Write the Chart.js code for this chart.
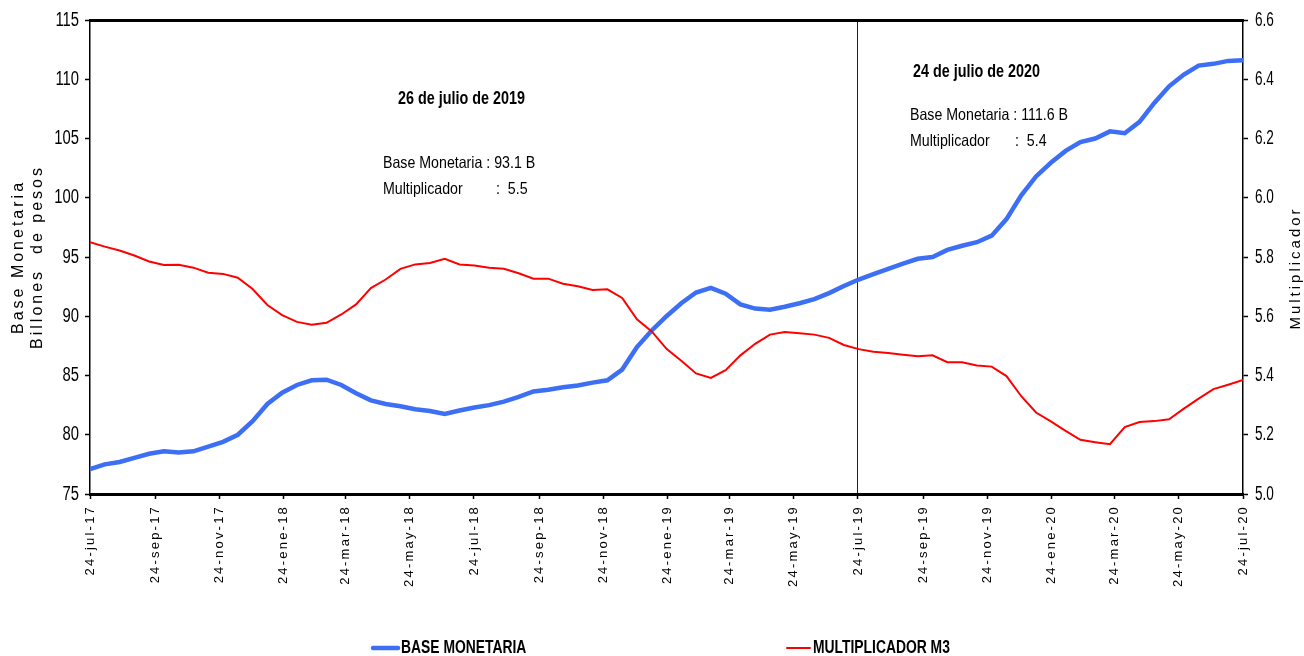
<!DOCTYPE html>
<html>
<head>
<meta charset="utf-8">
<title>Base Monetaria y Multiplicador M3</title>
<script src="https://cdn.jsdelivr.net/npm/chart.js@4.4.1/dist/chart.umd.min.js"></script>
<style>
  html, body { margin: 0; padding: 0; background: #fff; }
  canvas { display: block; }
</style>
</head>
<body>
<canvas id="chart" width="1304" height="656"></canvas>
<script>
// ---- data (about every two weeks, 24-jul-17 .. 24-jul-20) ----
const tickLabels = ['24-jul-17', '24-sep-17', '24-nov-17', '24-ene-18', '24-mar-18', '24-may-18',
  '24-jul-18', '24-sep-18', '24-nov-18', '24-ene-19', '24-mar-19', '24-may-19', '24-jul-19',
  '24-sep-19', '24-nov-19', '24-ene-20', '24-mar-20', '24-may-20', '24-jul-20'];

const baseMonetaria = [77.1, 77.5, 77.7, 78.05, 78.4, 78.6, 78.5, 78.6, 79.0, 79.4,
  80.0, 81.15, 82.6, 83.55, 84.2, 84.6, 84.65, 84.2, 83.5, 82.9,
  82.6, 82.4, 82.15, 82.0, 81.75, 82.05, 82.3, 82.5, 82.8, 83.2,
  83.65, 83.8, 84.0, 84.15, 84.4, 84.6, 85.5, 87.4, 88.8, 90.0,
  91.1, 92.0, 92.4, 91.9, 91.0, 90.65, 90.55, 90.8, 91.1, 91.45,
  91.95, 92.55, 93.1, 93.55, 94.0, 94.45, 94.85, 95.0, 95.6, 95.95,
  96.25, 96.8, 98.2, 100.2, 101.8, 102.95, 103.95, 104.7, 105.0, 105.6,
  105.45, 106.4, 108.0, 109.4, 110.4, 111.15, 111.3, 111.55, 111.6];

const multiplicador = [5.85, 5.835, 5.822, 5.805, 5.785, 5.773, 5.774, 5.764, 5.747, 5.743,
  5.730, 5.692, 5.638, 5.604, 5.581, 5.571, 5.578, 5.606, 5.64, 5.695,
  5.724, 5.76, 5.775, 5.78, 5.794, 5.775, 5.771, 5.764, 5.760, 5.745,
  5.727, 5.727, 5.71, 5.701, 5.689, 5.691, 5.662, 5.59, 5.549, 5.49,
  5.45, 5.407, 5.392, 5.418, 5.468, 5.507, 5.538, 5.547, 5.543, 5.538,
  5.527, 5.503, 5.489, 5.48, 5.476, 5.47, 5.465, 5.468, 5.445, 5.445,
  5.434, 5.43, 5.398, 5.33, 5.275, 5.245, 5.213, 5.183, 5.175, 5.168,
  5.226, 5.243, 5.246, 5.252, 5.288, 5.322, 5.354, 5.369, 5.385];

const notes = [
  { title: '26 de julio de 2019', base: '93.1 B', mult: '5.5' },
  { title: '24 de julio de 2020', base: '111.6 B', mult: '5.4' }
];
const refLabel = '24-jul-19';

// ---- helpers ----
const FONT = '"Liberation Sans", Arial, sans-serif';
const meses = ['ene', 'feb', 'mar', 'abr', 'may', 'jun', 'jul', 'ago', 'sep', 'oct', 'nov', 'dic'];

function toDay(label) {
  const p = label.split('-');
  return Date.UTC(2000 + Number(p[2]), meses.indexOf(p[1]), Number(p[0]));
}
const day0 = toDay(tickLabels[0]);
const tickDays = tickLabels.map(l => (toDay(l) - day0) / 86400000);
const totalDays = tickDays[tickDays.length - 1];
const refDay = tickDays[tickLabels.indexOf(refLabel)];
const step = totalDays / (baseMonetaria.length - 1);

const blueData = baseMonetaria.map((v, i) => ({ x: i * step, y: v }));
const redData = multiplicador.map((v, i) => ({ x: i * step, y: v }));

// narrow text: squeeze horizontally around an anchor
function narrowText(ctx, text, x, y, sx) {
  ctx.save();
  ctx.translate(x, y);
  ctx.scale(sx, 1);
  ctx.fillText(text, 0, 0);
  ctx.restore();
}

// letter spacing on rotated texts, condensed numbers on the y axes
const axisTextPlugin = {
  id: 'axisText',
  beforeDraw(chart) {
    const ctx = chart.ctx;
    const xs = chart.scales.x, ys = chart.scales.y, y1 = chart.scales.y1;
    if (xs && !xs._patched) {
      xs._patched = true;
      const dl = xs.drawLabels.bind(xs);
      xs.drawLabels = function (area) { ctx.save(); ctx.letterSpacing = '2.2px'; dl(area); ctx.restore(); };
    }
    if (ys && !ys._patched) {
      ys._patched = true;
      const dt = ys.drawTitle.bind(ys);
      ys.drawTitle = function () { ctx.save(); ctx.letterSpacing = '3px'; dt(); ctx.restore(); };
      const dl = ys.drawLabels.bind(ys);
      ys.drawLabels = function (area) {
        const ax = ys.right - 11;
        ctx.save(); ctx.translate(ax, 0); ctx.scale(0.74, 1); ctx.translate(-ax, 0);
        dl(area); ctx.restore();
      };
    }
    if (y1 && !y1._patched) {
      y1._patched = true;
      const dl = y1.drawLabels.bind(y1);
      y1.drawLabels = function (area) {
        const ax = y1.left + 12;
        ctx.save(); ctx.translate(ax, 0); ctx.scale(0.68, 1); ctx.translate(-ax, 0);
        dl(area); ctx.restore();
      };
    }
  }
};

// annotations, right title and legend
const notePos = [
  { titleX: 398, x: 383, colonX: 496, y: [99, 163, 189] },
  { titleX: 913, x: 910, colonX: 1015, y: [72, 115, 141] }
];
const legendPos = [
  { x0: 373, x1: 398, tx: 401 },
  { x0: 787, x1: 810, tx: 813 }
];
const textPlugin = {
  id: 'texts',
  afterDraw(chart) {
    const ctx = chart.ctx;
    ctx.save();
    ctx.fillStyle = '#000';
    ctx.textBaseline = 'middle';
    ctx.textAlign = 'left';
    notes.forEach((n, i) => {
      const p = notePos[i];
      ctx.font = 'bold 18.5px ' + FONT;
      narrowText(ctx, n.title, p.titleX, p.y[0], 0.777);
      ctx.font = '16.5px ' + FONT;
      narrowText(ctx, 'Base Monetaria : ' + n.base, p.x, p.y[1], 0.86);
      narrowText(ctx, 'Multiplicador', p.x, p.y[2], 0.86);
      narrowText(ctx, ':  ' + n.mult, p.colonX, p.y[2], 0.86);
    });

    ctx.save();
    ctx.translate(1296, 268);
    ctx.rotate(-Math.PI / 2);
    ctx.textAlign = 'center';
    ctx.font = '15px ' + FONT;
    ctx.letterSpacing = '3px';
    ctx.fillText('Multiplicador', 0, 0);
    ctx.restore();

    chart.data.datasets.forEach((ds, i) => {
      const p = legendPos[i];
      ctx.strokeStyle = ds.borderColor;
      ctx.lineWidth = ds.borderWidth;
      ctx.lineCap = 'round';
      ctx.beginPath();
      ctx.moveTo(p.x0, 648);
      ctx.lineTo(p.x1, 648);
      ctx.stroke();
      ctx.font = 'bold 19px ' + FONT;
      narrowText(ctx, ds.label, p.tx, 648, 0.73);
    });
    ctx.restore();
  }
};

const ctx = document.getElementById('chart').getContext('2d');
const chart = new Chart(ctx, {
  type: 'line',
  data: {
    datasets: [
      { label: 'BASE MONETARIA', data: blueData, yAxisID: 'y', borderColor: '#3d6ff5',
        borderWidth: 4.5, pointRadius: 0, tension: 0, order: 1 },
      { label: 'MULTIPLICADOR M3', data: redData, yAxisID: 'y1', borderColor: '#ff0000',
        borderWidth: 2, pointRadius: 0, tension: 0, order: 0 }
    ]
  },
  options: {
    responsive: false,
    animation: false,
    layout: { padding: { top: 20, left: 0, right: 0, bottom: 0 } },
    plugins: { legend: { display: false }, tooltip: { enabled: false } },
    scales: {
      x: {
        type: 'linear', position: 'bottom', min: 0, max: totalDays,
        afterBuildTicks: s => { s.ticks = tickDays.map(v => ({ value: v })); },
        afterFit: s => { s.height = 162; },
        ticks: {
          autoSkip: false, minRotation: 90, maxRotation: 90, padding: 6,
          color: '#000', font: { family: FONT, size: 13 },
          callback: (v, i) => tickLabels[i]
        },
        grid: {
          drawOnChartArea: true, drawTicks: true, tickLength: 5, lineWidth: 1,
          color: c => (c.tick && c.tick.value === refDay ? '#222' : 'rgba(0,0,0,0)'),
          tickColor: '#000', tickWidth: 1.5
        },
        border: { display: true, color: '#000', width: 3 }
      },
      xTop: {
        type: 'linear', position: 'top', min: 0, max: 1,
        afterFit: s => { s.height = 0; },
        ticks: { display: false },
        grid: { display: true, drawOnChartArea: false, drawTicks: false, color: 'rgba(0,0,0,0)' },
        border: { display: true, color: '#000', width: 3 }
      },
      y: {
        position: 'left', min: 75, max: 115,
        afterFit: s => { s.width = 90; },
        ticks: { stepSize: 5, padding: 6, color: '#000', font: { family: FONT, size: 20 } },
        grid: { drawOnChartArea: false, drawTicks: true, tickLength: 5, color: '#000', tickWidth: 1.5 },
        border: { display: true, color: '#000', width: 1.5 },
        title: {
          display: true, text: ['Base Monetaria', 'Billones  de pesos'], color: '#000',
          font: { family: FONT, size: 16 }, padding: { top: 9, bottom: 0 }
        }
      },
      y1: {
        position: 'right', min: 5.0, max: 6.6,
        afterFit: s => { s.width = 61; },
        ticks: { stepSize: 0.2, padding: 7, color: '#000', font: { family: FONT, size: 20 },
          callback: v => Number(v).toFixed(1) },
        grid: { drawOnChartArea: false, drawTicks: true, tickLength: 5, color: '#000', tickWidth: 1.5 },
        border: { display: true, color: '#000', width: 1.5 }
      }
    }
  },
  plugins: [axisTextPlugin, textPlugin]
});
chart.draw();
</script>
</body>
</html>
